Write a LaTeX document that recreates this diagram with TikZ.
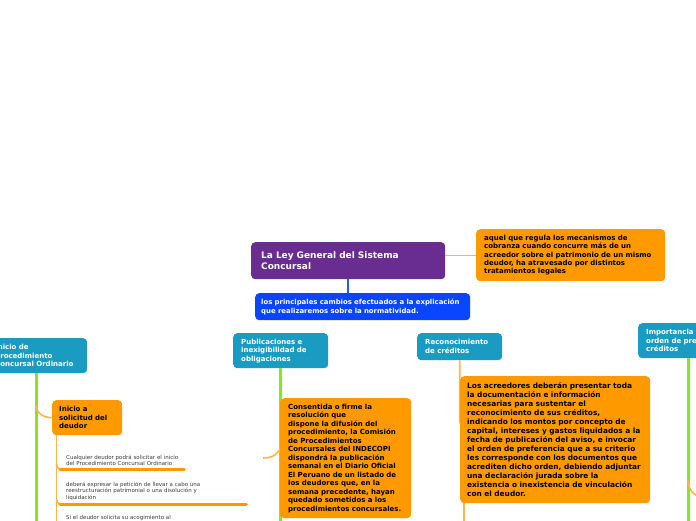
\documentclass[tikz,border=0pt]{standalone}
\usepackage{fontspec}
\setmainfont{DejaVu Sans}
\usetikzlibrary{calc}
\definecolor{purp}{HTML}{692C91}
\definecolor{org}{HTML}{FF9900}
\definecolor{lorg}{HTML}{FFB54A}
\definecolor{blu}{HTML}{0A46FF}
\definecolor{bluline}{HTML}{1E5CE6}
\definecolor{tealc}{HTML}{1A9CC2}
\definecolor{lime}{HTML}{8EE224}
\definecolor{smalltxt}{HTML}{3A3A3A}
\begin{document}
\begin{tikzpicture}[x=1pt,y=-1pt,
  box/.style={anchor=north west, rounded corners=4pt, align=left, inner ysep=0pt},
  mainbox/.style={box, fill=purp, text=white, font=\fontsize{9}{11.5}\selectfont\bfseries},
  orgbox/.style={box, fill=org, text=black, font=\fontsize{7}{8.4}\selectfont\bfseries},
  bluebox/.style={box, fill=blu, text=white, font=\fontsize{6.9}{9}\selectfont\bfseries},
  tealbox/.style={box, fill=tealc, text=white, font=\fontsize{7}{8.6}\selectfont\bfseries},
  smallnote/.style={align=left, inner xsep=6pt, inner ysep=3pt, text=smalltxt, font=\fontsize{5.5}{6.7}\selectfont},
  limeline/.style={draw=lime, line width=3pt},
  thinorg/.style={draw=lorg, line width=1.6pt},
  underl/.style={draw=org, line width=3pt, line cap=round},
]
\useasboundingbox (0,0) rectangle (696,520);
\fill[white] (0,0) rectangle (696,520);
\clip (0,0) rectangle (696,520);
\coordinate (bottom) at (0,530);

% ---------- top ----------
\node[mainbox, inner xsep=10pt, text width=174pt, minimum height=37pt] (main) at (251,242)
  {La Ley General del Sistema\\Concursal};
\node[orgbox, inner xsep=8pt, text width=173pt, minimum height=52pt, font=\fontsize{7}{8.2}\selectfont\bfseries] (def) at (476,229)
  {aquel que regula los mecanismos de\\cobranza cuando concurre más de un\\acreedor sobre el patrimonio de un mismo\\deudor, ha atravesado por distintos\\tratamientos legales};
\node[bluebox, inner xsep=6pt, text width=203pt, minimum height=27pt] (cambios) at (255,293)
  {los principales cambios efectuados a la explicación\\que realizaremos sobre la normatividad.};

\draw[thinorg, line width=1pt] (def.west) -- (def.west -| main.east);
\draw[draw=bluline, line width=2.5pt] (main.south) -- (main.south |- cambios.north);

% ---------- column heads ----------
\node[tealbox, inner xsep=10pt, text width=82pt, minimum height=35pt] (inicio) at (-15,338)
  {Inicio de\\Procedimiento\\Concursal Ordinario};
\node[tealbox, inner xsep=8pt, text width=79pt, minimum height=35pt] (publ) at (233,333)
  {Publicaciones e\\inexigibilidad de\\obligaciones};
\node[tealbox, inner xsep=8pt, text width=69pt, minimum height=27pt, font=\fontsize{7}{9}\selectfont\bfseries] (recon) at (417,333)
  {Reconocimiento\\de créditos};
\node[tealbox, inner xsep=8pt, text width=120pt, minimum height=35pt] (impor) at (638,323)
  {Importancia del\\orden de preferencia de\\créditos};

% ---------- lime stems (drawn first) ----------
\draw[limeline] (inicio.south) -- (inicio.south |- bottom);
\draw[limeline] (publ.south) -- (publ.south |- bottom);
\coordinate (imporstem) at ($(impor.south west)+(50,0)$);
\draw[limeline] (imporstem) -- (imporstem |- bottom);

% ---------- left column ----------
\node[orgbox, inner xsep=7pt, text width=56pt, minimum height=35pt, font=\fontsize{7}{8.4}\selectfont\bfseries] (solic) at (52,400)
  {Inicio a\\solicitud del\\deudor};
\coordinate (solicfork) at ($(inicio.south |- solic.west)+(0,-12)$);
\draw[thinorg] (solicfork) to[out=-90,in=180] (solic.west);
\coordinate (solicstem) at ($(solic.south west)+(4.5,0)$);
\draw[thinorg] (solicstem) -- (solicstem |- bottom);

\node[smallnote, anchor=south west, text width=112pt] (nota1) at (60,469)
  {Cualquier deudor podrá solicitar el inicio\\del Procedimiento Concursal Ordinario};
\draw[thinorg] ($(solicstem |- nota1.south)+(0,-5)$) to[out=-90,in=180] (nota1.south west);
\draw[underl] (nota1.south west) -- (nota1.south east);

\node[smallnote, anchor=south west, text width=174pt] (nota2) at (60,504)
  {deberá expresar la petición de llevar a cabo una\\reestructuración patrimonial o una disolución y\\liquidación};
\draw[thinorg] ($(solicstem |- nota2.south)+(0,-5)$) to[out=-90,in=180] (nota2.south west);
\draw[underl] (nota2.south west) -- (nota2.south east);

\node[smallnote, anchor=north west] (nota3) at (60,512)
  {Si el deudor solicita su acogimiento al};

% ---------- middle column ----------
\coordinate (pubfree) at (263,458);
\coordinate (pubjoin) at (281,446);
\draw[thinorg] (pubfree) .. controls (273,458) and (279,454) .. (pubjoin);
\node[orgbox, inner xsep=8pt, text width=115pt, minimum height=120pt, font=\fontsize{7}{8.5}\selectfont\bfseries] (consent) at (280,398)
  {Consentida o firme la\\resolución que\\dispone la difusión del\\procedimiento, la Comisión\\de Procedimientos\\Concursales del INDECOPI\\dispondrá la publicación\\semanal en el Diario Oficial\\El Peruano de un listado de\\los deudores que, en la\\semana precedente, hayan\\quedado sometidos a los\\procedimientos concursales.};

% ---------- right-middle column ----------
\coordinate (reconbend) at ($(recon.south)+(0,60)$);
\draw[thinorg] (recon.south) -- (reconbend) to[out=-90,in=180] ($(reconbend)+(8,8)$);
\node[orgbox, inner xsep=7pt, text width=176pt, minimum height=127pt, font=\fontsize{7.4}{9}\selectfont\bfseries] (acreed) at (460,376)
  {Los acreedores deberán presentar toda\\la documentación e información\\necesarias para sustentar el\\reconocimiento de sus créditos,\\indicando los montos por concepto de\\capital, intereses y gastos liquidados a la\\fecha de publicación del aviso, e invocar\\el orden de preferencia que a su criterio\\les corresponde con los documentos que\\acrediten dicho orden, debiendo adjuntar\\una declaración jurada sobre la\\existencia o inexistencia de vinculación\\con el deudor.};
\coordinate (acrstem) at ($(acreed.south west)+(4,0)$);
\draw[thinorg] (acrstem) -- (acrstem |- bottom);

% ---------- right column ----------
\coordinate (imporfree) at (703,497);
\draw[thinorg] ($(imporstem)+(0,122)$) to[out=-90,in=180] (imporfree);
\end{tikzpicture}
\end{document}
